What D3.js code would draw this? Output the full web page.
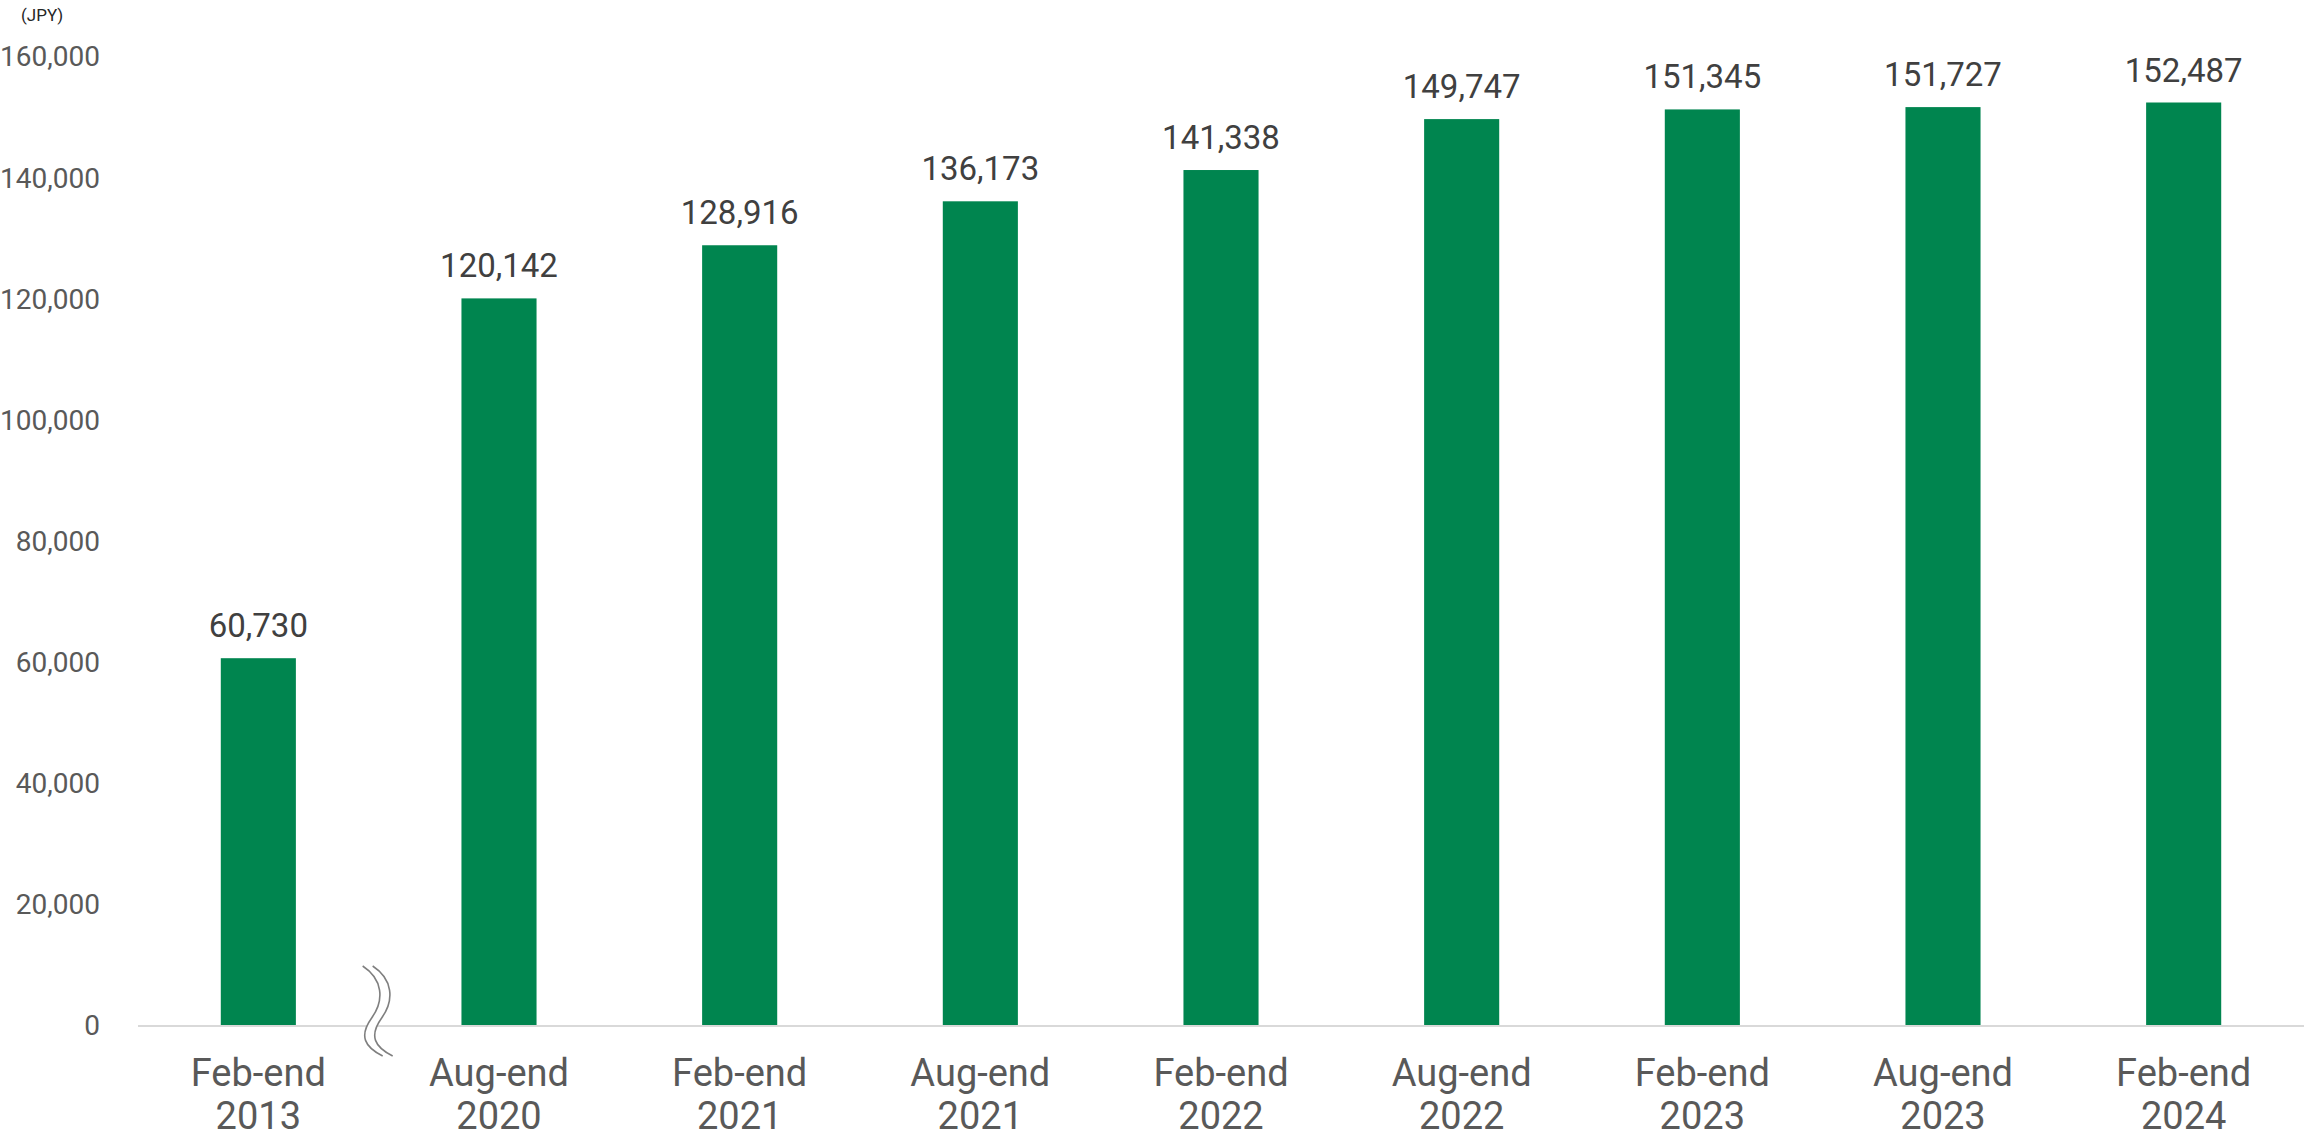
<!DOCTYPE html>
<html>
<head>
<meta charset="utf-8">
<script src="https://cdn.jsdelivr.net/npm/d3@7/dist/d3.min.js"></script>
<style>
  html, body { margin: 0; padding: 0; background: #ffffff; }
  svg { display: block; font-family: Roboto, "Noto Sans", sans-serif; }
</style>
</head>
<body>
<svg id="chart" width="2306" height="1139"></svg>
<script>
// Period-end labels (two lines each) and values in JPY
const periods = ["Feb-end", "Aug-end", "Feb-end", "Aug-end", "Feb-end", "Aug-end", "Feb-end", "Aug-end", "Feb-end"];
const years   = ["2013", "2020", "2021", "2021", "2022", "2022", "2023", "2023", "2024"];
const values  = [60730, 120142, 128916, 136173, 141338, 149747, 151345, 151727, 152487];
const yTicks  = [0, 20000, 40000, 60000, 80000, 100000, 120000, 140000, 160000];
const unitLabel = "(JPY)";

const svg = d3.select("#chart");
const keys = values.map((_, i) => i);

const x = d3.scaleBand()
  .domain(keys)
  .range([138, 2304])
  .paddingInner(0.688)
  .paddingOuter(0.344);

const y = d3.scaleLinear()
  .domain([0, 160000])
  .range([1026, 57]);

const fmt = d3.format(",");

// Y axis tick labels (no axis line, no tick marks)
const yAxis = svg.append("g")
  .attr("transform", "translate(100,0)")
  .call(d3.axisLeft(y).tickValues(yTicks).tickFormat(fmt).tickSize(0).tickPadding(0));
yAxis.select(".domain").remove();
yAxis.selectAll("text")
  .attr("fill", "#595959")
  .attr("font-size", 28)
  .attr("font-family", "Roboto, sans-serif");

// Unit label
svg.append("text")
  .attr("x", 21).attr("y", 21)
  .attr("font-size", 17)
  .attr("fill", "#262626")
  .text(unitLabel);

// Bars
svg.append("g").selectAll("rect")
  .data(values)
  .join("rect")
  .attr("x", (d, i) => x(i))
  .attr("width", x.bandwidth())
  .attr("y", d => y(d))
  .attr("height", d => y(0) - y(d))
  .attr("fill", "#00854F");

// Value labels
svg.append("g").selectAll("text")
  .data(values)
  .join("text")
  .attr("x", (d, i) => x(i) + x.bandwidth() / 2)
  .attr("y", d => y(d) - 21)
  .attr("text-anchor", "middle")
  .attr("font-size", 33)
  .attr("fill", "#404040")
  .text(d => fmt(d));

// Baseline
svg.append("line")
  .attr("x1", x.range()[0]).attr("x2", x.range()[1])
  .attr("y1", y(0)).attr("y2", y(0))
  .attr("stroke", "#d9d9d9")
  .attr("stroke-width", 2);

// Category labels: period on the first line, year on the second
const xl = svg.append("g")
  .attr("font-size", 38)
  .attr("fill", "#595959")
  .attr("text-anchor", "middle");
xl.selectAll("text.period")
  .data(keys)
  .join("text")
  .attr("class", "period")
  .attr("x", i => x(i) + x.bandwidth() / 2)
  .attr("y", 1086)
  .text(i => periods[i]);
xl.selectAll("text.year")
  .data(keys)
  .join("text")
  .attr("class", "year")
  .attr("x", i => x(i) + x.bandwidth() / 2)
  .attr("y", 1129)
  .text(i => years[i]);

// Axis break symbol between the first and second periods
const bx = (x(0) + x.bandwidth() / 2 + x(1) + x.bandwidth() / 2) / 2 + 2;
const by = y(0);
const sCurve = dx => {
  const p = d3.path();
  p.moveTo(bx - 10 + dx, by - 60);
  p.bezierCurveTo(bx + 10 + dx, by - 47, bx + 12 + dx, by - 26, bx - 1 + dx, by - 8);
  p.bezierCurveTo(bx - 14 + dx, by + 10, bx - 8 + dx, by + 21, bx + 10 + dx, by + 30);
  return p.toString();
};
const brk = svg.append("g");
// white gap covering the baseline between the two strokes
brk.append("path")
  .attr("d", sCurve(-3))
  .attr("fill", "none")
  .attr("stroke", "#ffffff")
  .attr("stroke-width", 8);
brk.append("path")
  .attr("d", sCurve(-8))
  .attr("fill", "none")
  .attr("stroke", "#7f7f7f")
  .attr("stroke-width", 1.6);
brk.append("path")
  .attr("d", sCurve(2))
  .attr("fill", "none")
  .attr("stroke", "#7f7f7f")
  .attr("stroke-width", 1.6);
</script>
</body>
</html>
